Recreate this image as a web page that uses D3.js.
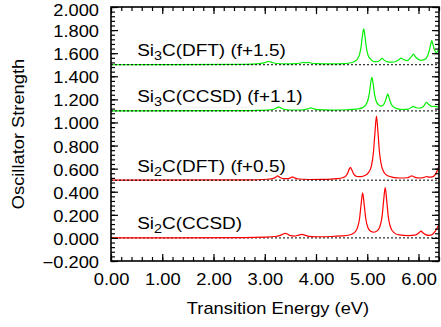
<!DOCTYPE html>
<html>
<head>
<meta charset="utf-8">
<script src="https://cdn.jsdelivr.net/npm/d3@7"></script>
<style>
  body { margin: 0; background: #fff; }
  svg { display: block; }
  text { font-family: "Liberation Sans", Arial, sans-serif; fill: #000; }
</style>
</head>
<body>
<svg id="chart" width="441" height="327"></svg>
<script>
// spectra: [energy (eV), oscillator strength above offset]
var si2cCcsd = [[0,0],[2.6,0.002],[3.0,0.006],[3.2,0.012],[3.30,0.022],[3.36,0.034],[3.40,0.040],[3.44,0.034],[3.50,0.020],[3.58,0.016],[3.66,0.024],[3.72,0.030],[3.78,0.024],[3.86,0.014],[4.0,0.010],[4.3,0.012],[4.5,0.017],[4.65,0.025],[4.75,0.046],[4.81,0.089],[4.85,0.168],[4.88,0.29],[4.91,0.39],[4.94,0.291],[4.97,0.17],[5.01,0.092],[5.06,0.06],[5.13,0.049],[5.20,0.063],[5.25,0.102],[5.29,0.189],[5.32,0.325],[5.35,0.435],[5.38,0.323],[5.41,0.186],[5.45,0.097],[5.52,0.046],[5.62,0.026],[5.80,0.02],[5.95,0.026],[6.01,0.045],[6.05,0.058],[6.09,0.042],[6.15,0.026],[6.20,0.022],[6.26,0.026],[6.33,0.06],[6.40,0.115]];
var si2cDft = [[0,0],[2.7,0.002],[3.05,0.008],[3.17,0.016],[3.22,0.028],[3.25,0.038],[3.29,0.026],[3.36,0.014],[3.45,0.013],[3.50,0.02],[3.54,0.028],[3.58,0.02],[3.66,0.01],[3.85,0.006],[4.1,0.007],[4.3,0.01],[4.40,0.013],[4.52,0.021],[4.58,0.035],[4.62,0.062],[4.65,0.098],[4.67,0.112],[4.70,0.088],[4.74,0.05],[4.80,0.032],[4.88,0.03],[4.96,0.042],[5.03,0.07],[5.08,0.122],[5.12,0.237],[5.15,0.41],[5.18,0.555],[5.21,0.41],[5.24,0.235],[5.28,0.122],[5.33,0.066],[5.40,0.038],[5.50,0.025],[5.65,0.019],[5.78,0.021],[5.83,0.03],[5.87,0.038],[5.91,0.029],[5.98,0.02],[6.05,0.019],[6.11,0.025],[6.16,0.032],[6.21,0.026],[6.27,0.028],[6.33,0.05],[6.40,0.12]];
var si3cCcsd = [[0,0],[2.7,0.002],[3.05,0.006],[3.17,0.014],[3.23,0.026],[3.27,0.035],[3.31,0.026],[3.38,0.013],[3.5,0.008],[3.7,0.008],[3.80,0.013],[3.86,0.021],[3.90,0.026],[3.94,0.021],[4.02,0.011],[4.3,0.007],[4.6,0.01],[4.8,0.016],[4.9,0.026],[4.97,0.05],[5.01,0.09],[5.04,0.15],[5.065,0.235],[5.09,0.29],[5.115,0.235],[5.14,0.15],[5.17,0.09],[5.21,0.056],[5.27,0.042],[5.32,0.055],[5.36,0.095],[5.40,0.145],[5.44,0.09],[5.49,0.043],[5.58,0.02],[5.70,0.012],[5.80,0.015],[5.86,0.03],[5.90,0.04],[5.94,0.03],[6.00,0.025],[6.05,0.027],[6.10,0.04],[6.13,0.06],[6.16,0.075],[6.19,0.06],[6.23,0.045],[6.28,0.038],[6.32,0.04],[6.40,0.035]];
var si3cDft = [[0,0],[2.6,0.003],[2.9,0.01],[3.0,0.018],[3.04,0.025],[3.07,0.028],[3.11,0.024],[3.2,0.013],[3.4,0.008],[3.6,0.01],[3.70,0.015],[3.76,0.02],[3.80,0.017],[3.85,0.02],[3.90,0.015],[4.0,0.009],[4.3,0.007],[4.55,0.01],[4.70,0.019],[4.80,0.045],[4.85,0.09],[4.88,0.157],[4.905,0.248],[4.93,0.31],[4.955,0.248],[4.98,0.157],[5.01,0.09],[5.06,0.05],[5.13,0.027],[5.20,0.026],[5.25,0.04],[5.29,0.056],[5.33,0.04],[5.40,0.024],[5.48,0.022],[5.55,0.026],[5.61,0.04],[5.66,0.058],[5.71,0.045],[5.78,0.035],[5.84,0.058],[5.87,0.075],[5.90,0.092],[5.93,0.075],[5.98,0.052],[6.05,0.038],[6.12,0.045],[6.18,0.08],[6.22,0.14],[6.245,0.19],[6.26,0.21],[6.28,0.18],[6.31,0.13],[6.35,0.105],[6.38,0.12],[6.40,0.15]];

var seriesData = [si2cCcsd, si2cDft, si3cCcsd, si3cDft];
var offsets = [0, 0.5, 1.1, 1.5];
var colors = ["#ff0000", "#ff0000", "#00f000", "#00f000"];
// label parts: before subscript, subscript, after subscript
var labelMain = ["Si", "Si", "Si", "Si"];
var labelSub = ["2", "2", "3", "3"];
var labelRest = ["C(CCSD)", "C(DFT) (f+0.5)", "C(CCSD) (f+1.1)", "C(DFT) (f+1.5)"];

var xTicks = [0, 1, 2, 3, 4, 5, 6];
var yTicks = [-0.2, 0, 0.2, 0.4, 0.6, 0.8, 1.0, 1.2, 1.4, 1.6, 1.8, 2.0];

var margin = {left: 111, top: 7},
  width = 328,
  height = 254;
var stretch = 1.13;

var svg = d3.select("#chart");
var g = svg.append("g")
  .attr("transform", "translate(" + margin.left + "," + margin.top + ")");

var x = d3.scaleLinear().domain([0, 6.4]).range([0, width]);
var y = d3.scaleLinear().domain([-0.2, 2.0]).range([height, 0]);

var xMinor = d3.range(0, 33).map(function (i) { return i * 0.2; });
var yMinor = d3.range(0, 56).map(function (i) { return -0.2 + i * 0.04; });

g.append("clipPath").attr("id", "clip")
  .append("rect").attr("width", width).attr("height", height);

var plot = g.append("g").attr("clip-path", "url(#clip)");

function baseline(i) {
  plot.append("line")
    .attr("x1", 0).attr("x2", width)
    .attr("y1", y(offsets[i])).attr("y2", y(offsets[i]))
    .attr("stroke", "#000")
    .attr("stroke-width", 1)
    .attr("stroke-dasharray", "2,2");
}

baseline(0);

seriesData.forEach(function (d, i) {
  var line = d3.line()
    .x(function (p) { return x(p[0]); })
    .y(function (p) { return y(p[1] + offsets[i]); })
    .curve(d3.curveMonotoneX);
  plot.append("path")
    .attr("d", line(d))
    .attr("fill", "none")
    .attr("stroke", colors[i])
    .attr("stroke-width", 1.2);
});

[1, 2, 3].forEach(baseline);

// axes, ticks pointing inward on all four sides
function addAxis(axis, tf, big, values) {
  var a = g.append("g").attr("transform", tf)
    .call(axis.tickValues(values).tickSize(big ? -7 : -4));
  a.select(".domain").remove();
  a.selectAll("line").attr("stroke", "#000").attr("stroke-width", 1.2);
  return a;
}

var fmtX = d3.format(".2f"), fmtY = d3.format(".3f");

addAxis(d3.axisBottom(x).tickFormat(""), "translate(0," + height + ")", false, xMinor);
addAxis(d3.axisTop(x).tickFormat(""), "translate(0,0)", false, xMinor);
addAxis(d3.axisLeft(y).tickFormat(""), "translate(0,0)", false, yMinor);
addAxis(d3.axisRight(y).tickFormat(""), "translate(" + width + ",0)", false, yMinor);

var bx = addAxis(d3.axisBottom(x).tickFormat(fmtX), "translate(0," + height + ")", true, xTicks);
addAxis(d3.axisTop(x).tickFormat(""), "translate(0,0)", true, xTicks);
var ly = addAxis(d3.axisLeft(y).tickFormat(fmtY), "translate(0,0)", true, yTicks);
addAxis(d3.axisRight(y).tickFormat(""), "translate(" + width + ",0)", true, yTicks);

bx.selectAll("text")
  .attr("font-family", "Liberation Sans, Arial, sans-serif")
  .attr("font-size", 16.2)
  .attr("dy", null)
  .attr("y", null)
  .attr("transform", "translate(0,24) scale(" + stretch + ",1)");

ly.selectAll("text")
  .attr("font-family", "Liberation Sans, Arial, sans-serif")
  .attr("font-size", 16.2)
  .attr("x", null)
  .attr("dy", "0.4em")
  .attr("transform", function (d) {
    var shift = d >= 2 ? 1.8 : 0;
    return "translate(-12," + shift + ") scale(" + stretch + ",1)";
  });

g.append("rect")
  .attr("width", width).attr("height", height)
  .attr("fill", "none").attr("stroke", "#000").attr("stroke-width", 1.6);

// series labels
offsets.forEach(function (o, i) {
  var t = g.append("text")
    .attr("font-size", 16.5)
    .attr("transform", "translate(" + x(0.51) + "," + (y(o) - 8.5) + ") scale(1.15,1)");
  t.append("tspan").text(labelMain[i]);
  t.append("tspan").attr("font-size", 12.5).attr("dy", 4).text(labelSub[i]);
  t.append("tspan").attr("dy", -4).text(labelRest[i]);
});

// axis titles
svg.append("text")
  .attr("font-size", 16.2)
  .attr("text-anchor", "middle")
  .attr("transform", "translate(278,314) scale(" + stretch + ",1)")
  .text("Transition Energy (eV)");

svg.append("text")
  .attr("font-size", 16.2)
  .attr("text-anchor", "middle")
  .attr("transform", "translate(24,134) rotate(-90) scale(" + stretch + ",1)")
  .text("Oscillator Strength");
</script>
</body>
</html>
